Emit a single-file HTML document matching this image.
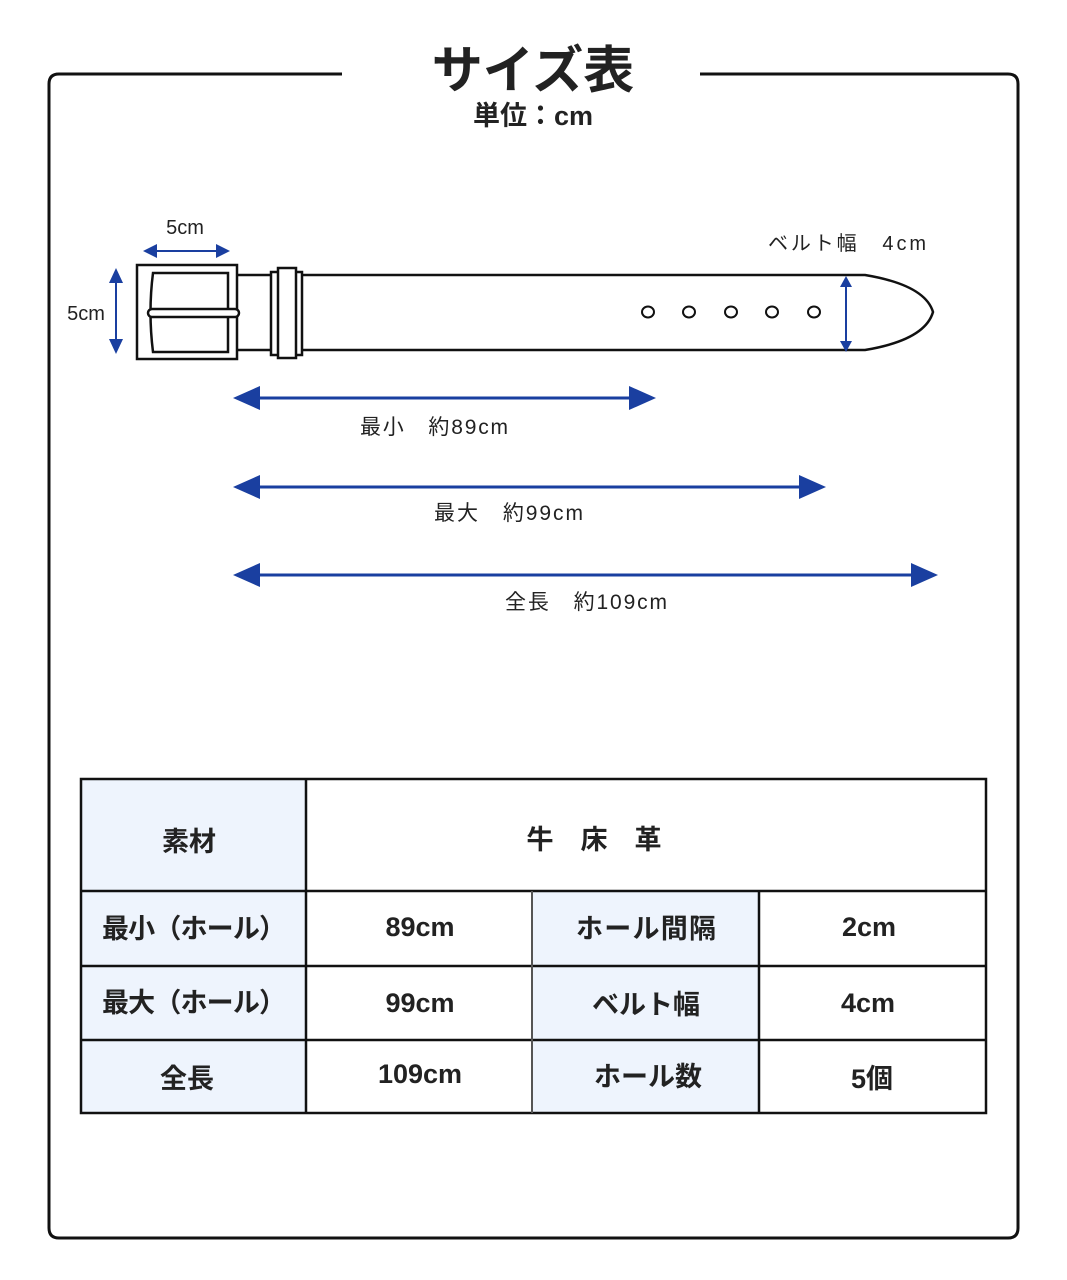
<!DOCTYPE html>
<html><head><meta charset="utf-8"><style>
body{margin:0;background:#fff}
svg{display:block}
text{font-family:"Liberation Sans","Noto Sans CJK JP",sans-serif;fill:#222}
</style></head><body>
<svg width="1067" height="1280" viewBox="0 0 1067 1280">
<!-- frame -->
<path d="M342 74 H59 Q49 74 49 84 V1228 Q49 1238 59 1238 H1008 Q1018 1238 1018 1228 V84 Q1018 74 1008 74 H700" fill="none" stroke="#111" stroke-width="3"/>
<text x="533" y="88" font-size="51" font-weight="bold" text-anchor="middle" fill="#111">サイズ表</text>
<text x="533" y="125" font-size="27" font-weight="bold" text-anchor="middle" fill="#222">単位：cm</text>

<!-- belt -->
<g fill="none" stroke="#111" stroke-width="2.5">
<path d="M237 275 H865 Q925 285 933 312 Q925 340 865 350 H237"/>
<rect x="137" y="265" width="100" height="94" fill="#fff"/>
<path d="M153 273 H228 V352 H153 Q148 312 153 273Z"/>
<rect x="148" y="309" width="91" height="8" rx="4" fill="#fff"/>
<rect x="271" y="272" width="31" height="83" fill="#fff"/>
<rect x="278" y="268" width="18" height="90" fill="#fff"/>
<ellipse cx="648" cy="312" rx="6" ry="5.5" stroke-width="2"/>
<ellipse cx="689" cy="312" rx="6" ry="5.5" stroke-width="2"/>
<ellipse cx="731" cy="312" rx="6" ry="5.5" stroke-width="2"/>
<ellipse cx="772" cy="312" rx="6" ry="5.5" stroke-width="2"/>
<ellipse cx="814" cy="312" rx="6" ry="5.5" stroke-width="2"/>
</g>

<!-- small blue dims -->
<g stroke="#1a3fa0" stroke-width="2" fill="#1a3fa0">
<line x1="150" y1="251" x2="222" y2="251"/>
<polygon points="143,251 157,244 157,258" stroke="none"/>
<polygon points="230,251 216,244 216,258" stroke="none"/>
<line x1="116" y1="275" x2="116" y2="345"/>
<polygon points="116,268 109,283 123,283" stroke="none"/>
<polygon points="116,354 109,339 123,339" stroke="none"/>
<line x1="846" y1="282" x2="846" y2="344"/>
<polygon points="846,276 840,287 852,287" stroke="none"/>
<polygon points="846,352 840,341 852,341" stroke="none"/>
</g>
<text x="185" y="234" font-size="20" text-anchor="middle">5cm</text>
<text x="86" y="320" font-size="20" text-anchor="middle">5cm</text>
<text x="768" y="250" font-size="20" textLength="158">ベルト幅　4cm</text>

<!-- long arrows -->
<g stroke="#1a3fa0" stroke-width="3" fill="#1a3fa0">
<line x1="250" y1="398" x2="640" y2="398"/>
<polygon points="233,398 260,386 260,410" stroke="none"/>
<polygon points="656,398 629,386 629,410" stroke="none"/>
<line x1="250" y1="487" x2="810" y2="487"/>
<polygon points="233,487 260,475 260,499" stroke="none"/>
<polygon points="826,487 799,475 799,499" stroke="none"/>
<line x1="250" y1="575" x2="920" y2="575"/>
<polygon points="233,575 260,563 260,587" stroke="none"/>
<polygon points="938,575 911,563 911,587" stroke="none"/>
</g>
<text x="360" y="434" font-size="21" textLength="148">最小　約89cm</text>
<text x="434" y="520" font-size="21" textLength="149">最大　約99cm</text>
<text x="505" y="609" font-size="21" textLength="162">全長　約109cm</text>

<!-- table -->
<g fill="#eef4fd">
<rect x="81" y="779" width="225" height="334"/>
<rect x="532" y="891" width="227" height="222"/>
</g>
<g stroke="#111" stroke-width="2.5" fill="none">
<rect x="81" y="779" width="905" height="334"/>
<line x1="306" y1="779" x2="306" y2="1113"/>
<line x1="81" y1="891" x2="986" y2="891"/>
<line x1="81" y1="966" x2="986" y2="966"/>
<line x1="81" y1="1040" x2="986" y2="1040"/>
<line x1="759" y1="891" x2="759" y2="1113"/>
</g>
<line x1="532" y1="891" x2="532" y2="1113" stroke="#555" stroke-width="2"/>
<g font-size="27" font-weight="bold" text-anchor="middle">
<text x="189" y="851" fill="#333">素材</text>
<text x="594" y="849" fill="#333">牛　床　革</text>
<text x="194" y="938" fill="#333" textLength="184">最小（ホール）</text>
<text x="420" y="936" fill="#333">89cm</text>
<text x="646" y="938" fill="#333" textLength="140">ホール間隔</text>
<text x="869" y="936" fill="#333">2cm</text>
<text x="194" y="1012" fill="#333" textLength="184">最大（ホール）</text>
<text x="420" y="1012" fill="#333">99cm</text>
<text x="646" y="1014" fill="#333">ベルト幅</text>
<text x="868" y="1012" fill="#333">4cm</text>
<text x="187" y="1088" fill="#333">全長</text>
<text x="420" y="1083" fill="#333">109cm</text>
<text x="648" y="1086" fill="#333">ホール数</text>
<text x="872" y="1088" fill="#333">5個</text>
</g>
</svg>
</body></html>
